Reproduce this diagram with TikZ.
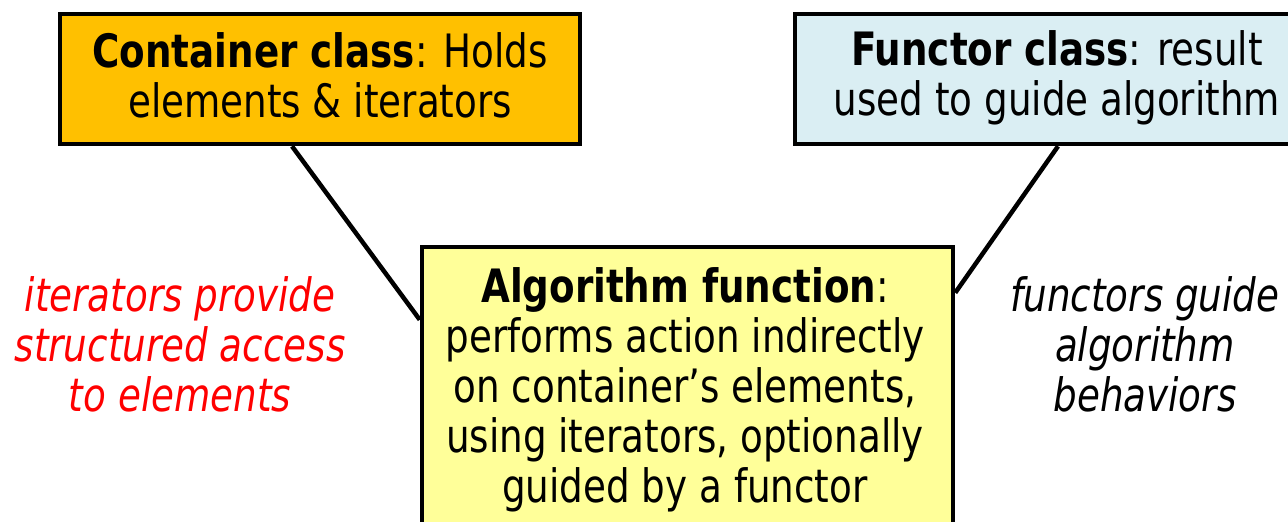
\documentclass[tikz,border=0pt]{standalone}
\usepackage{fontspec}
\setmainfont[FakeStretch=0.9]{DejaVu Sans Condensed}
\definecolor{contfill}{HTML}{FFC000}
\definecolor{funcfill}{HTML}{DAEEF3}
\definecolor{algfill}{HTML}{FFFF99}
\begin{document}
\begin{tikzpicture}[x=1pt,y=1pt,
  box/.style={draw=black, line width=4.5pt, rectangle, inner sep=0pt},
  txt/.style={anchor=north, inner sep=0pt, align=center, font=\fontsize{46}{50}\selectfont},
  conn/.style={draw=black, line width=4.5pt}]
\useasboundingbox (0,0) rectangle (1288,-522);
\clip (0,0) rectangle (1288,-522);
\node[box, fill=contfill, minimum width=520, minimum height=130] (cont) at (320,-79) {};
\node[box, fill=funcfill, minimum width=520, minimum height=130] (func) at (1055,-79) {};
\node[box, fill=algfill, minimum width=531, minimum height=313] (alg) at (687.5,-403.5) {};
\draw[conn] ([xshift=-28pt]cont.south) -- ([yshift=-75pt]alg.north west);
\draw[conn] ([xshift=3pt]func.south) -- ([yshift=-48pt]alg.north east);
\node[txt] (conttxt) at (320,-32) {\strut\textbf{Container class}: Holds\\elements \& iterators};
\node[txt] (functxt) at (1057,-30) {\strut\textbf{Functor class}: result\\used to guide algorithm};
\node[txt] (algtxt) at (685,-267) {\strut\textbf{Algorithm function}:\\performs action indirectly\\on container’s elements,\\using iterators, optionally\\guided by a functor};
\node[txt, text=red, font=\fontsize{46}{50}\selectfont\itshape] (itlab) at (180,-276) {\strut iterators provide\\structured access\\to elements};
\node[txt, font=\fontsize{46}{50}\selectfont\itshape] (funlab) at (1145,-276) {\strut functors guide\\algorithm\\behaviors};
\end{tikzpicture}
\end{document}
